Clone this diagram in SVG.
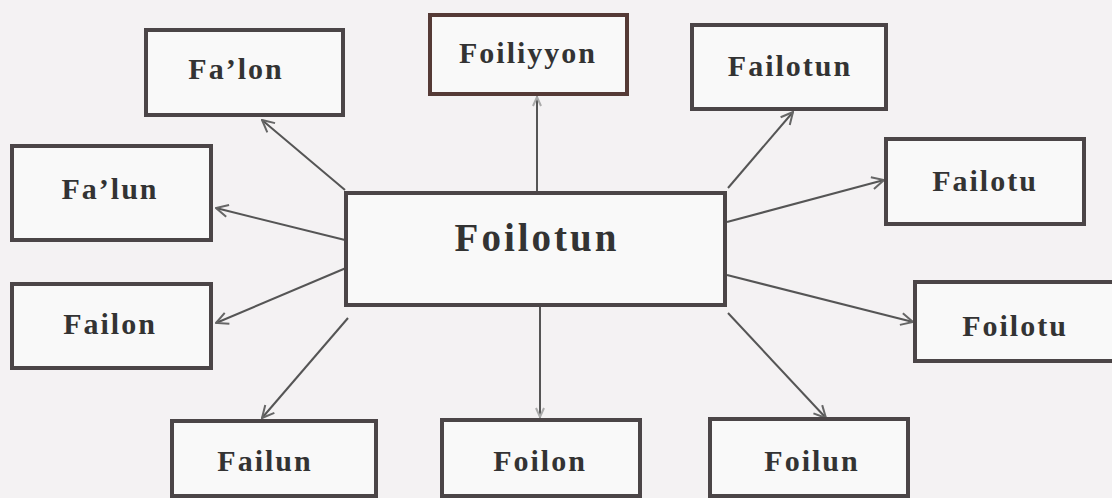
<svg xmlns="http://www.w3.org/2000/svg" width="1112" height="498" viewBox="0 0 1112 498">
<style>
.bg{fill:#f4f2f3}
.box{fill:#f9f9f9;stroke:#4b4547;stroke-width:4}
.lbl{font-family:"Liberation Serif","Times New Roman",serif;font-weight:bold;font-size:30px;fill:#333;text-anchor:middle;letter-spacing:2px}
.big{font-size:39px;letter-spacing:3px}
.edge{stroke:#555;stroke-width:2;fill:none;marker-end:url(#arr)}
.faint{stroke:#555;stroke-width:2;fill:none;marker-end:url(#arrf)}
</style>
<defs>
<marker id="arr" viewBox="0 0 14 14" refX="13" refY="7" markerWidth="14" markerHeight="14" markerUnits="userSpaceOnUse" orient="auto">
<path d="M1,1 L13,7 L1,13" fill="none" stroke="#666" stroke-width="2"/>
</marker>
<marker id="arrf" viewBox="0 0 14 14" refX="13" refY="7" markerWidth="14" markerHeight="14" markerUnits="userSpaceOnUse" orient="auto">
<path d="M3,3 L12,7 L3,11" fill="none" stroke="#aaa" stroke-width="2"/>
</marker>
</defs>
<rect class="bg" x="0" y="0" width="1112" height="498"/>
<g id="connectors">
<line class="edge" x1="345" y1="190" x2="262" y2="120"/>
<line class="edge" x1="345" y1="240" x2="216" y2="208"/>
<line class="edge" x1="346" y1="268" x2="216" y2="323"/>
<line class="edge" x1="348" y1="318" x2="262" y2="418"/>
<line class="faint" x1="540" y1="306" x2="540" y2="418"/>
<line class="faint" x1="537" y1="192" x2="537" y2="96"/>
<line class="edge" x1="728" y1="313" x2="826" y2="418"/>
<line class="edge" x1="727" y1="275" x2="913" y2="322"/>
<line class="edge" x1="727" y1="222" x2="884" y2="180"/>
<line class="edge" x1="728" y1="188" x2="793" y2="112"/>
</g>
<g id="n-center"><rect class="box" x="346" y="193" width="379" height="112"/><text class="lbl big" x="537" y="251">Foilotun</text></g>
<g id="n-falon"><rect class="box" x="146" y="30" width="197" height="85"/><text class="lbl" x="236" y="79">Fa’lon</text></g>
<g id="n-foiliyyon"><rect class="box" x="430" y="15" width="197" height="79" style="stroke:#553a36"/><text class="lbl" x="528" y="63">Foiliyyon</text></g>
<g id="n-failotun"><rect class="box" x="692" y="25" width="194" height="84"/><text class="lbl" x="790" y="76">Failotun</text></g>
<g id="n-failotu"><rect class="box" x="886" y="139" width="198" height="85"/><text class="lbl" x="985" y="191">Failotu</text></g>
<g id="n-falun"><rect class="box" x="12" y="146" width="199" height="94"/><text class="lbl" x="110" y="199">Fa’lun</text></g>
<g id="n-failon"><rect class="box" x="12" y="284" width="199" height="84"/><text class="lbl" x="110" y="334">Failon</text></g>
<g id="n-foilotu"><rect class="box" x="915" y="282" width="210" height="79"/><text class="lbl" x="1015" y="336">Foilotu</text></g>
<g id="n-failun"><rect class="box" x="172" y="421" width="204" height="75"/><text class="lbl" x="265" y="471">Failun</text></g>
<g id="n-foilon"><rect class="box" x="442" y="420" width="198" height="76"/><text class="lbl" x="540" y="471">Foilon</text></g>
<g id="n-foilun"><rect class="box" x="710" y="419" width="198" height="77"/><text class="lbl" x="812" y="471">Foilun</text></g>
</svg>
